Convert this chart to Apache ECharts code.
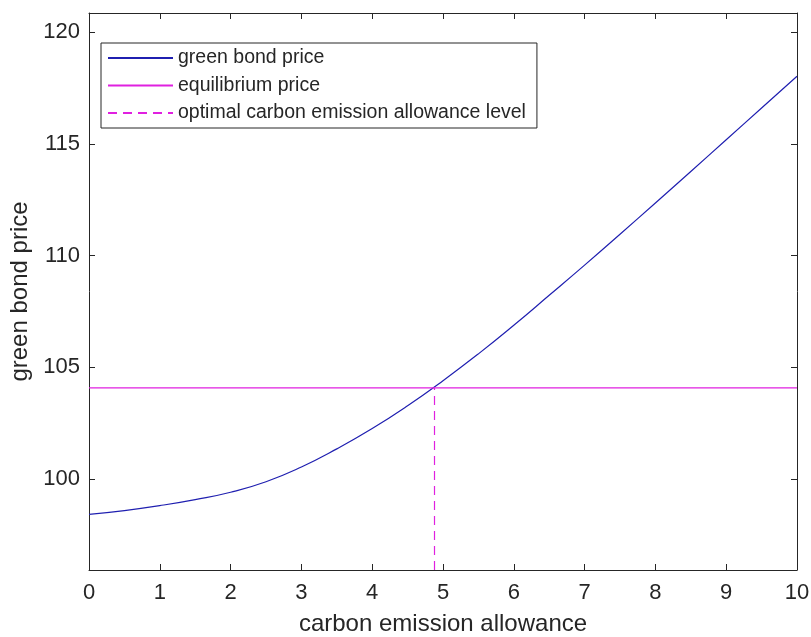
<!DOCTYPE html>
<html>
<head>
<meta charset="utf-8">
<script src="https://cdn.jsdelivr.net/npm/echarts@6/dist/echarts.min.js"></script>
<style>
  html, body { margin: 0; padding: 0; background: #fff; }
  #main { width: 811px; height: 637px; }
</style>
</head>
<body>
<div id="main"></div>
<script>
// carbon emission allowance (x) and green bond price (y)
var allowance = [0, 0.5, 1, 1.5, 2, 2.5, 3, 3.5, 4, 4.5, 5, 5.5, 6, 6.5, 7, 7.5, 8, 8.5, 9, 9.5, 10];
var bondPrice = [98.42, 98.59, 98.81, 99.08, 99.41, 99.88, 100.54, 101.35, 102.26, 103.28, 104.40,
  105.60, 106.88, 108.22, 109.57, 110.95, 112.35, 113.76, 115.18, 116.60, 118.02];
var equilibriumPrice = 104.08;
var optimalAllowance = 4.88;
var xRange = [0, 10];
var yRange = [95.93, 120.85];

var axisColor = '#262626';
var fontFamily = '"Liberation Sans", Arial, sans-serif';

var chart = echarts.init(document.getElementById('main'), null, { renderer: 'canvas' });

function xAxisCfg(pos, labels) {
  return {
    type: 'value',
    position: pos,
    min: xRange[0],
    max: xRange[1],
    interval: 1,
    splitLine: { show: false },
    axisLine: { show: true, onZero: false, lineStyle: { color: axisColor, width: 1 } },
    axisTick: { show: true, inside: true, length: 6, lineStyle: { color: axisColor } },
    axisLabel: { show: labels, color: axisColor, fontSize: 22, fontFamily: fontFamily, margin: 12 }
  };
}

function yAxisCfg(pos, labels) {
  return {
    type: 'value',
    position: pos,
    min: yRange[0],
    max: yRange[1],
    minInterval: 5,
    maxInterval: 5,
    splitLine: { show: false },
    axisLine: { show: true, onZero: false, lineStyle: { color: axisColor, width: 1 } },
    axisTick: { show: true, inside: true, length: 6, lineStyle: { color: axisColor } },
    axisLabel: {
      show: labels, color: axisColor, fontSize: 22, fontFamily: fontFamily, margin: 9,
      showMinLabel: false, showMaxLabel: false,
      formatter: function (v) { return v % 5 === 0 ? String(v) : ''; }
    }
  };
}

var xBottom = xAxisCfg('bottom', true);
xBottom.name = 'carbon emission allowance';
xBottom.nameLocation = 'middle';
xBottom.nameGap = 42;
xBottom.nameTextStyle = { color: axisColor, fontSize: 24, fontFamily: fontFamily };

var yLeft = yAxisCfg('left', true);
yLeft.name = 'green bond price';
yLeft.nameLocation = 'middle';
yLeft.nameGap = 55;
yLeft.nameTextStyle = { color: axisColor, fontSize: 24, fontFamily: fontFamily };

var option = {
  backgroundColor: '#ffffff',
  animation: false,
  grid: { left: 89, top: 13, right: 14, bottom: 67, outerBoundsMode: 'none' },
  legend: {
    orient: 'vertical',
    left: 101,
    top: 43,
    padding: [5, 11, 5, 6],
    itemWidth: 65,
    itemHeight: 20,
    itemGap: 7.5,
    backgroundColor: '#ffffff',
    borderColor: axisColor,
    borderWidth: 1,
    itemStyle: { opacity: 0 },
    textStyle: { color: axisColor, fontSize: 19.5, fontFamily: fontFamily },
    data: ['green bond price', 'equilibrium price', 'optimal carbon emission allowance level']
  },
  xAxis: [xBottom, xAxisCfg('top', false)],
  yAxis: [yLeft, yAxisCfg('right', false)],
  series: [
    {
      name: 'green bond price',
      type: 'line',
      smooth: true,
      symbol: 'none',
      color: '#1f1fb0',
      lineStyle: { color: '#1f1fb0', width: 1.2 },
      data: allowance.map(function (x, i) { return [x, bondPrice[i]]; })
    },
    {
      name: 'equilibrium price',
      type: 'line',
      symbol: 'none',
      color: '#e020e0',
      lineStyle: { color: '#e020e0', width: 1.2 },
      data: [[xRange[0], equilibriumPrice], [xRange[1], equilibriumPrice]]
    },
    {
      name: 'optimal carbon emission allowance level',
      type: 'line',
      symbol: 'none',
      color: '#e020e0',
      lineStyle: { color: '#e020e0', width: 1.2, type: [9, 6] },
      data: [[optimalAllowance, yRange[0]], [optimalAllowance, equilibriumPrice]]
    }
  ]
};

chart.setOption(option);
</script>
</body>
</html>
